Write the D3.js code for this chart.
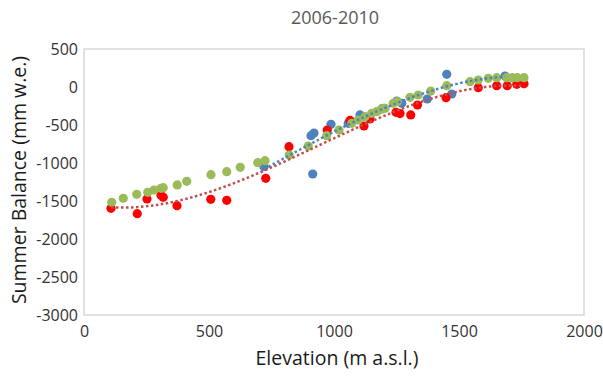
<!DOCTYPE html>
<html lang="en">
<head>
  <meta charset="UTF-8" />
  <script src="https://d3js.org/d3.v7.min.js"></script>
  <title>2006-2010</title>
  <style>
    body { margin:0; background:#fff; }
    text { font-family: "Open Sans", sans-serif; }
  </style>
</head>
<body>
<script type="text/javascript">
// elevation (m a.s.l.) and summer balance (mm w.e.) per series
var blueX = [720, 908, 920, 915, 988, 1057, 1104, 1191, 1200, 1251, 1271, 1373, 1451, 1471, 1684];
var blueY = [-1048, -640, -605, -1145, -491, -478, -368, -289, -280, -184, -215, -158, 167, -92, 145];
var redX = [108, 213, 252, 308, 317, 372, 507, 571, 727, 820, 973, 1064, 1120, 1144, 1248, 1264, 1307, 1334, 1448, 1577, 1651, 1693, 1731, 1760];
var redY = [-1596, -1667, -1474, -1425, -1451, -1562, -1478, -1491, -1201, -785, -566, -440, -513, -421, -333, -350, -368, -237, -141, -9, 17, 17, 35, 43];
var greenX = [111, 157, 211, 255, 280, 308, 317, 373, 411, 508, 571, 625, 695, 724, 821, 897, 971, 1020, 1071, 1097, 1124, 1151, 1171, 1191, 1204, 1237, 1253, 1304, 1337, 1387, 1451, 1544, 1577, 1617, 1651, 1691, 1713, 1733, 1760];
var greenY = [-1517, -1464, -1412, -1386, -1355, -1333, -1325, -1289, -1241, -1154, -1114, -1057, -996, -970, -895, -776, -641, -566, -478, -434, -390, -346, -325, -289, -280, -215, -193, -136, -105, -53, 17, 70, 92, 114, 123, 123, 123, 123, 123];
var xTicks = [0, 500, 1000, 1500, 2000];
var yTicks = [500, 0, -500, -1000, -1500, -2000, -2500, -3000];

var W = 603, H = 379;
var svg = d3.select("body").append("svg").attr("width", W).attr("height", H);

var x = d3.scaleLinear().domain([0, 2000]).range([84, 584]);
var y = d3.scaleLinear().domain([-3000, 500]).range([315, 49]);

svg.append("rect").attr("x", 84).attr("y", 49).attr("width", 500).attr("height", 266)
  .attr("fill", "none").attr("stroke", "#d9d9d9").attr("stroke-width", 1.5);

var ax = svg.append("g").attr("transform", "translate(0,320)")
  .call(d3.axisBottom(x).tickValues(xTicks).tickSize(0).tickPadding(6).tickFormat(function(d) { return String(d); }));
ax.select(".domain").remove();
var ay = svg.append("g").attr("transform", "translate(80,0)")
  .call(d3.axisLeft(y).tickValues(yTicks).tickSize(0).tickPadding(2).tickFormat(function(d) { return String(d); }));
ay.select(".domain").remove();
svg.selectAll(".tick text").attr("font-family", "Open Sans").attr("font-size", 16).attr("fill", "#333");

// least squares polynomial fit (Excel style trendline)
function polyfit(xs, ys, order) {
  var n = order + 1, A = [], i, j, k;
  for (i = 0; i < n; i++) { A.push(new Array(n + 1).fill(0)); }
  xs.forEach(function(xv, idx) {
    var t = xv / 1000;
    for (i = 0; i < n; i++) {
      for (j = 0; j < n; j++) A[i][j] += Math.pow(t, i + j);
      A[i][n] += ys[idx] * Math.pow(t, i);
    }
  });
  for (i = 0; i < n; i++) {
    var p = i;
    for (k = i + 1; k < n; k++) if (Math.abs(A[k][i]) > Math.abs(A[p][i])) p = k;
    var tmp = A[i]; A[i] = A[p]; A[p] = tmp;
    for (k = i + 1; k < n; k++) {
      var f = A[k][i] / A[i][i];
      for (j = i; j <= n; j++) A[k][j] -= f * A[i][j];
    }
  }
  var c = new Array(n).fill(0);
  for (i = n - 1; i >= 0; i--) {
    var s = A[i][n];
    for (j = i + 1; j < n; j++) s -= A[i][j] * c[j];
    c[i] = s / A[i][i];
  }
  return function(xv) { var t = xv / 1000, r = 0; for (var q = 0; q < n; q++) r += c[q] * Math.pow(t, q); return r; };
}

function dots(xs, ys, col) {
  svg.append("g").selectAll("circle").data(xs).enter().append("circle")
    .attr("cx", function(d) { return x(d); })
    .attr("cy", function(d, i) { return y(ys[i]); })
    .attr("r", 4.6).attr("fill", col);
}
dots(blueX, blueY, "#4f81bd");
dots(redX, redY, "#ff0000");
dots(greenX, greenY, "#9bbb59");

var line = d3.line().x(function(d) { return x(d[0]); }).y(function(d) { return y(d[1]); });
function trend(xs, ys, order, col) {
  var f = polyfit(xs, ys, order);
  var lo = d3.min(xs), hi = d3.max(xs);
  var pts = d3.range(0, 101).map(function(k) { var xv = lo + (hi - lo) * k / 100; return [xv, f(xv)]; });
  svg.append("path").datum(pts).attr("d", line).attr("fill", "none")
    .attr("stroke", col).attr("stroke-width", 2.5).attr("stroke-dasharray", "2.5,2.5");
}
trend(blueX, blueY, 3, "#4f81bd");
trend(redX, redY, 3, "#c0504d");

svg.append("text").attr("x", 335).attr("y", 24).attr("text-anchor", "middle")
  .attr("font-size", 18).attr("fill", "#595959").text("2006-2010");
svg.append("text").attr("x", 337).attr("y", 365).attr("text-anchor", "middle")
  .attr("font-size", 19.5).attr("fill", "#1a1a1a").text("Elevation (m a.s.l.)");
svg.append("text").attr("transform", "translate(26,180) rotate(-90)").attr("text-anchor", "middle")
  .attr("font-size", 19.5).attr("fill", "#1a1a1a").text("Summer Balance (mm w.e.)");
</script>
</body>
</html>
